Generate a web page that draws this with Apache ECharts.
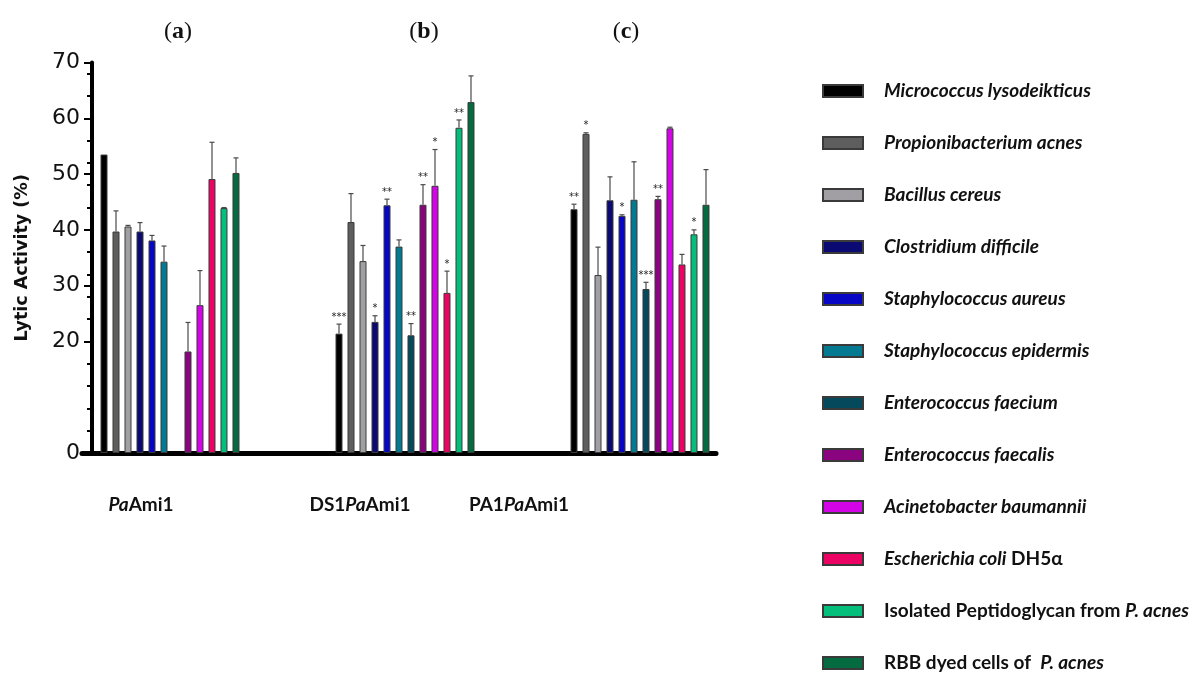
<!DOCTYPE html>
<html><head><meta charset="utf-8">
<script src="https://cdn.jsdelivr.net/npm/echarts@6/dist/echarts.min.js"></script>
<style>html,body{margin:0;padding:0;background:#fff}#c{width:1190px;height:675px}</style>
</head><body><div id="c"></div>
<script>
// ---------- data ----------
const groups = ['PaAmi1', 'DS1PaAmi1', 'PA1PaAmi1'];
const panelLetters = ['a', 'b', 'c'];
const speciesNames = [
  'Micrococcus lysodeikticus', 'Propionibacterium acnes', 'Bacillus cereus',
  'Clostridium difficile', 'Staphylococcus aureus', 'Staphylococcus epidermis',
  'Enterococcus faecium', 'Enterococcus faecalis', 'Acinetobacter baumannii',
  'Escherichia coli DH5α', 'Isolated Peptidoglycan from P. acnes', 'RBB dyed cells of P. acnes'
];
const speciesColors = ['#000000', '#5e5e5e', '#a19fa4', '#0a0a72', '#0606c4', '#037a92',
  '#054a5c', '#8a0480', '#d305e6', '#ec0464', '#04be7c', '#046a40'];
const valuesA = [53.5, 39.7, 40.6, 39.7, 38.1, 34.3, null, 18.2, 26.5, 49.1, 43.9, 50.2];
const valuesB = [21.4, 41.4, 34.4, 23.5, 44.4, 37.0, 21.1, 44.5, 47.9, 28.7, 58.3, 62.9];
const valuesC = [43.7, 57.2, 31.9, 45.3, 42.5, 45.4, 29.4, 45.5, 58.2, 33.8, 39.2, 44.5];
const errorsA = [0, 3.7, 0.2, 1.6, 0.9, 2.8, null, 5.2, 6.2, 6.6, 0.1, 2.7];
const errorsB = [1.7, 5.1, 2.8, 1.1, 1.1, 1.2, 2.1, 3.6, 6.5, 3.9, 1.4, 4.7];
const errorsC = [0.9, 0.2, 5.0, 4.2, 0.2, 6.8, 1.2, 0.5, 0.2, 1.8, 0.8, 6.3];
const starsA = ['', '', '', '', '', '', '', '', '', '', '', ''];
const starsB = ['***', '', '', '*', '**', '', '**', '**', '*', '*', '**', ''];
const starsC = ['**', '*', '', '', '*', '', '***', '**', '', '', '*', ''];
const yTickLabels = [0, 20, 30, 40, 50, 60, 70];
const yAxisName = 'Lytic Activity (%)';

// ---------- layout ----------
const BAR_W = 7, BAR_GAP = 5, PITCH = BAR_W + BAR_GAP;
const TOP = 62.5, BOTTOM = 222;
const panelPos = [[178, 32], [424, 32], [626, 32]];
const groupLabelPos = [[141, 505], [360, 505], [519, 505]];

const valueSets = [valuesA, valuesB, valuesC];
const errorSets = [errorsA, errorsB, errorsC];
const starSets = [starsA, starsB, starsC];

const legendRich = {
  'Escherichia coli DH5α': '{i|Escherichia coli}{n| DH5α}',
  'Isolated Peptidoglycan from P. acnes': '{n|Isolated Peptidoglycan from }{i|P. acnes}',
  'RBB dyed cells of P. acnes': '{n|RBB dyed cells of  }{i|P. acnes}'
};

const barSeries = speciesNames.map((name, i) => ({
  name, type: 'bar', xAxisIndex: 0, yAxisIndex: 0,
  barWidth: BAR_W, barGap: (BAR_GAP / BAR_W * 100).toFixed(1) + '%',
  itemStyle: { color: speciesColors[i], borderColor: '#3a3a3a', borderWidth: 1 },
  data: valueSets.map(v => v[i]),
  z: 2
}));

const errData = [];
valueSets.forEach((vals, g) => vals.forEach((v, i) => {
  if (v == null) return;
  errData.push([g, v, errorSets[g][i] || 0, i, starSets[g][i]]);
}));

const errSeries = {
  type: 'custom', xAxisIndex: 0, yAxisIndex: 0, z: 5,
  encode: { x: 0, y: 1 },
  data: errData.map(d => [d[0], d[1], d[2], d[3]]),
  renderItem: (params, api) => {
    const d = errData[params.dataIndex];
    const g = d[0], v = d[1], e = d[2], i = d[3], star = d[4];
    const base = api.coord([g, v]);
    const top = api.coord([g, v + e]);
    const x = base[0] + (i - 5.5) * PITCH;
    const children = [];
    const st = { stroke: '#4a4a4a', lineWidth: 1.2 };
    if (e > 0) {
      children.push({ type: 'line', shape: { x1: x, y1: base[1], x2: x, y2: top[1] }, style: st });
      children.push({ type: 'line', shape: { x1: x - 2.5, y1: top[1], x2: x + 2.5, y2: top[1] }, style: st });
    }
    if (star) {
      children.push({ type: 'text', x: x, y: top[1] - 2,
        style: { text: star, fontSize: 10, fontFamily: 'DejaVu Sans', fill: '#222', align: 'center', verticalAlign: 'bottom' } });
    }
    return { type: 'group', children };
  }
};

const graphics = [];
panelLetters.forEach((l, k) => graphics.push({
  type: 'text', x: panelPos[k][0], y: panelPos[k][1],
  style: { text: '{p|(}{b|' + l + '}{p|)}', align: 'center', verticalAlign: 'middle',
    rich: { p: { fontFamily: 'Liberation Serif', fontSize: 24, fill: '#111' },
            b: { fontFamily: 'Liberation Serif', fontSize: 24, fontWeight: 'bold', fill: '#111' } } }
}));
groups.forEach((gname, k) => {
  const parts = gname.split('Pa');
  const txt = parts.map(p => p ? '{n|' + p + '}' : '').join('{i|Pa}');
  graphics.push({
    type: 'text', x: groupLabelPos[k][0], y: groupLabelPos[k][1],
    style: { text: txt, align: 'center', verticalAlign: 'middle',
      rich: { n: { fontFamily: 'Lato', fontSize: 19, fontWeight: 'bold', fill: '#111' },
              i: { fontFamily: 'Lato', fontSize: 19, fontWeight: 'bold', fontStyle: 'italic', fill: '#111' } } }
  });
});

const chart = echarts.init(document.getElementById('c'), null, { renderer: 'canvas' });
chart.setOption({
  animation: false,
  backgroundColor: '#ffffff',
  grid: [
    { left: 52.5, right: 432.5, top: TOP, bottom: BOTTOM },
    { left: 82, right: 474, top: TOP, bottom: BOTTOM }
  ],
  xAxis: [
    { type: 'category', gridIndex: 0, data: groups, show: false },
    { type: 'category', gridIndex: 1, data: [''],
      axisLine: { lineStyle: { color: '#000', width: 5 } }, axisTick: { show: false }, axisLabel: { show: false } }
  ],
  yAxis: [
    { type: 'value', gridIndex: 0, min: 0, max: 70, show: false },
    { type: 'value', gridIndex: 1, position: 'left', min: 0, max: 70, interval: 10, offset: -10,
      axisLine: { show: true, lineStyle: { color: '#000', width: 4 } },
      axisTick: { show: true, customValues: yTickLabels, length: 8, lineStyle: { color: '#000', width: 2 } },
      axisLabel: { customValues: yTickLabels, fontFamily: 'DejaVu Sans', fontSize: 22, color: '#111', margin: 12 },
      splitLine: { show: false },
      name: yAxisName, nameLocation: 'middle', nameGap: 61,
      nameTextStyle: { fontFamily: 'DejaVu Sans', fontWeight: 'bold', fontSize: 17.5, color: '#111' } },
    { type: 'value', gridIndex: 1, position: 'left', min: 0, max: 70, interval: 4, offset: -10,
      axisLine: { show: false }, axisLabel: { show: false }, splitLine: { show: false },
      axisTick: { show: true, length: 5, lineStyle: { color: '#000', width: 2 } } }
  ],
  legend: {
    data: speciesNames, orient: 'vertical', left: 822, top: 81, padding: 0,
    itemWidth: 40, itemHeight: 12, itemGap: 32, icon: 'rect',
    formatter: name => '{s| }' + (legendRich[name] || '{i|' + name + '}'),
    textStyle: {
      lineHeight: 20,
      rich: {
        s: { width: 16, lineHeight: 20 },
        i: { fontFamily: 'Lato', fontSize: 19, fontWeight: 'bold', fontStyle: 'italic', color: '#111', lineHeight: 20 },
        n: { fontFamily: 'Lato', fontSize: 19, fontWeight: 'bold', color: '#111', lineHeight: 20 }
      }
    }
  },
  series: [...barSeries, errSeries],
  graphic: graphics
});
</script></body></html>
